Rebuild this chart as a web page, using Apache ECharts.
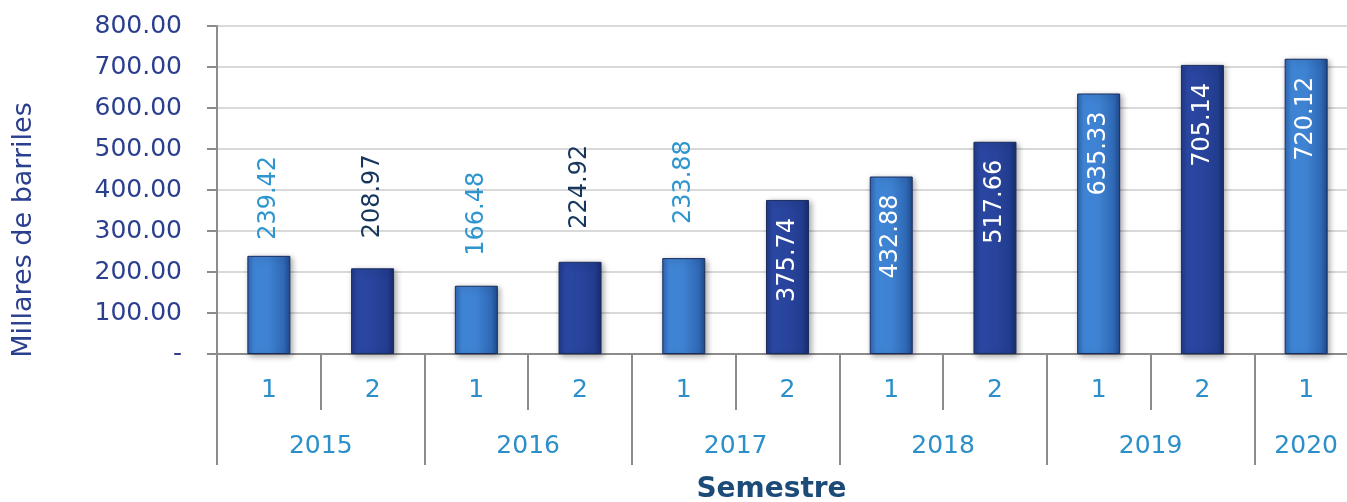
<!DOCTYPE html>
<html><head><meta charset="utf-8">
<script src="https://cdn.jsdelivr.net/npm/echarts@6/dist/echarts.min.js"></script>
<style>html,body{margin:0;padding:0;background:#fff}#c{width:1347px;height:502px}</style>
</head><body><div id="c"></div>
<script>
const semesters = ['1','2','1','2','1','2','1','2','1','2','1'];
const years = ['2015','2016','2017','2018','2019','2020'];
const yearSpans = [2,2,2,2,2,1];
const values = [239.42,208.97,166.48,224.92,233.88,375.74,432.88,517.66,635.33,705.14,720.12];
const yTicks = [0,100,200,300,400,500,600,700,800];

const FONT = 'DejaVu Sans';
const lightGrad = {type:'linear',x:0,y:0,x2:1,y2:0,colorStops:[
  {offset:0,color:'#2f66b3'},{offset:0.15,color:'#3f85d6'},{offset:0.5,color:'#3e82d1'},{offset:0.85,color:'#2f68b5'},{offset:1,color:'#1f4a8a'}]};
const darkGrad = {type:'linear',x:0,y:0,x2:1,y2:0,colorStops:[
  {offset:0,color:'#22398a'},{offset:0.15,color:'#2a47a3'},{offset:0.5,color:'#28449c'},{offset:0.85,color:'#223c8e'},{offset:1,color:'#182c6c'}]};
const outsideCount = 5;
const outsideGap = [16,30,30,33,34];
const outsideColor = ['#2e95cf','#17365d','#2e95cf','#17365d','#2e95cf'];

const barData = values.map((v,i)=>{
  const light = semesters[i]==='1';
  const item = {value:v, itemStyle:{color: light?lightGrad:darkGrad}};
  if (i < outsideCount) {
    item.label = {show:true, position:'top', rotate:90, align:'left', verticalAlign:'middle',
      distance: outsideGap[i], color: outsideColor[i]};
  } else {
    item.label = {show:true, position:'insideTop', rotate:90, align:'right', verticalAlign:'middle',
      distance: 18, color:'#ffffff'};
  }
  return item;
});

const nPts = semesters.length*2 + 1;
const yearPts = new Array(nPts).fill('');
const boundaryPts = new Set();
let pos = 0;
years.forEach((y,k)=>{
  boundaryPts.add(pos);
  yearPts[pos + yearSpans[k]] = y;
  pos += yearSpans[k]*2;
});
boundaryPts.add(pos);

const chart = echarts.init(document.getElementById('c'));
chart.setOption({
  animation:false,
  textStyle:{fontFamily:FONT},
  grid:{left:217, top:26, width:1141, height:328, containLabel:false, outerBoundsMode:'none'},
  xAxis:[{
    type:'category', data:semesters, position:'bottom',
    axisLine:{lineStyle:{color:'#8c8c8c',width:2}},
    axisTick:{show:true, length:56, interval:0, lineStyle:{color:'#8c8c8c',width:2}},
    axisLabel:{interval:0, margin:24, fontSize:25, color:'#2b8fc9', fontFamily:FONT},
    name:'Semestre', nameLocation:'middle', nameGap:122,
    nameTextStyle:{fontSize:28, fontWeight:'bold', color:'#1d4b78', fontFamily:FONT, padding:[0,32,0,0]}
  },{
    type:'category', data:yearPts, position:'bottom', boundaryGap:false,
    axisLine:{show:false},
    axisTick:{show:true, length:111, interval:(i)=>boundaryPts.has(i), lineStyle:{color:'#8c8c8c',width:2}},
    axisLabel:{interval:0, margin:80, fontSize:25, color:'#2b8fc9', fontFamily:FONT},
    splitLine:{show:false}
  }],
  yAxis:{
    type:'value', min:0, max:800, interval:100,
    axisLine:{show:true, lineStyle:{color:'#8c8c8c',width:2}},
    axisTick:{show:true, length:10, lineStyle:{color:'#8c8c8c',width:2}},
    splitLine:{lineStyle:{color:'#d9d9d9',width:2}},
    axisLabel:{margin:35, fontSize:25, color:'#2b3f8f', fontFamily:FONT,
      formatter:(v)=> v===0 ? '-' : v.toFixed(2)},
    name:'Millares de barriles', nameLocation:'middle', nameGap:180, nameRotate:90,
    nameTextStyle:{fontSize:27, color:'#2b3f8f', fontFamily:FONT, padding:[0,80,0,0]}
  },
  series:[{
    type:'bar', xAxisIndex:0, data:barData, barWidth:43,
    itemStyle:{borderColor:'#1a2c5e', borderWidth:1, shadowBlur:6, shadowColor:'rgba(0,0,0,0.35)', shadowOffsetX:2, shadowOffsetY:2},
    label:{show:true, fontSize:24, fontFamily:FONT, formatter:(p)=>p.value.toFixed(2)}
  }]
});
</script></body></html>
